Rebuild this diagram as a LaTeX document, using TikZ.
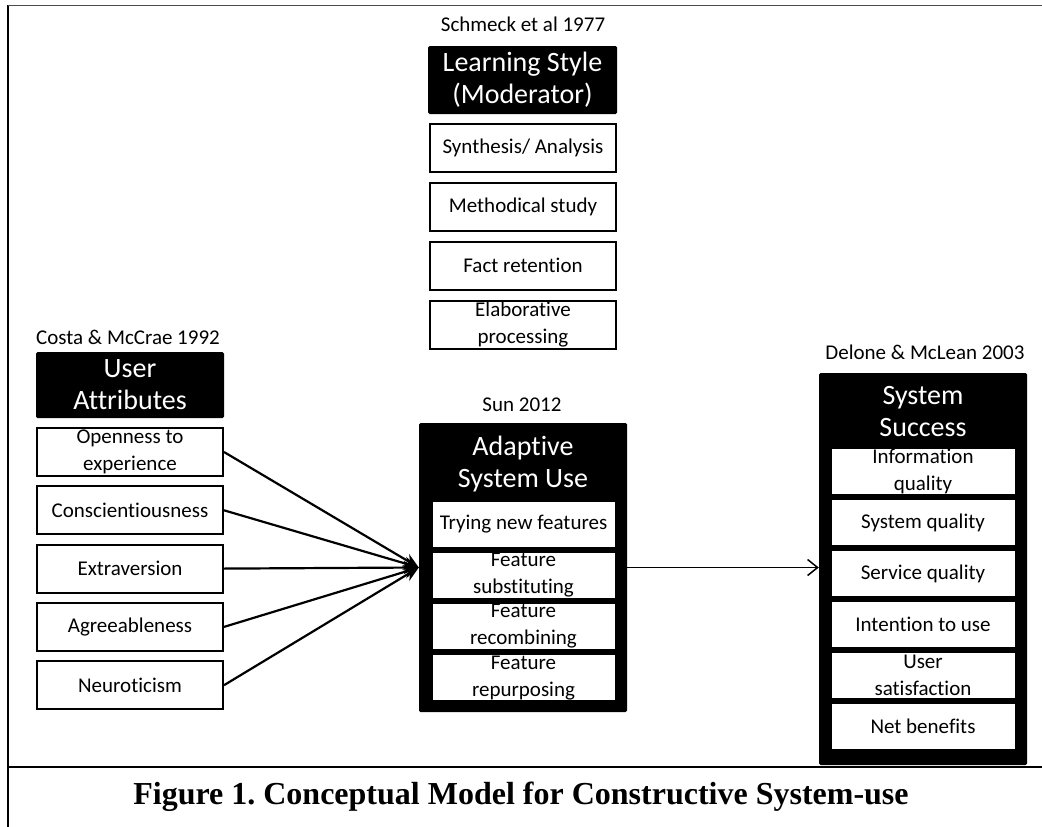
\documentclass[tikz,border=0pt]{standalone}
\usepackage{fontspec}
\setmainfont{Carlito}[Ligatures=NoCommon]
\newfontfamily\capfont{Liberation Serif}
\usetikzlibrary{arrows.meta}
\frenchspacing

\tikzset{
    item/.style={draw,line width=2pt,fill=white,minimum width=186pt,minimum height=48pt,inner sep=0pt,align=center,font=\fontsize{21}{27}\selectfont},
    subitem/.style={draw,line width=.6pt,fill=white,minimum width=183pt,minimum height=46pt,inner sep=0pt,align=center,font=\fontsize{21}{27}\selectfont},
    head/.style={fill=black,rounded corners=1.5pt,inner sep=0pt,text=white,align=center,font=\fontsize{28}{32}\selectfont},
    cite/.style={font=\fontsize{21}{25}\selectfont},
}

\begin{document}
\begin{tikzpicture}[x=1pt,y=-1pt]
    \useasboundingbox (0,0) rectangle (1042,827);
    % frame and caption rule
    \draw[line width=2.5pt] (8,5) -- (8,827);
    \draw[line width=1.2pt,black!70] (8,5.5) -- (1042,5.5);
    \draw[line width=2.5pt] (8,767) -- (1042,767);

    % moderator
    \node[cite] at (523,24)(lsRef){Schmeck et al 1977};
    \node[head,minimum width=189pt,minimum height=68pt] at (522.5,80)(ls){Learning Style\\(Moderator)};
    \foreach \t [count=\i from 0] in {Synthesis/ Analysis,Methodical study,Fact retention,Elaborative\\processing}{
        \node[item] at (523,147.5+59*\i)(ls\i){\t};
    }

    % user attributes
    \node[cite] at (128,337)(uaRef){Costa \& McCrae 1992};
    \node[head,minimum width=188pt,minimum height=66pt] at (130,385)(ua){User\\Attributes};
    \foreach \t [count=\i from 0] in {Openness to\\experience,Conscientiousness,Extraversion,Agreeableness,Neuroticism}{
        \node[item] at (130,452+58.3*\i)(ua\i){\t};
    }

    % adaptive system use
    \node[cite] at (522,405)(adaptRef){Sun 2012};
    \node[head,minimum width=208pt,minimum height=289pt] at (523,567.5)(adapt){};
    \node[head,fill=none] at (523,464)(adaptHead){Adaptive\\System Use};
    \foreach \t [count=\i from 0] in {Trying new features,Feature\\substituting,Feature\\recombining,Feature\\repurposing}{
        \node[subitem] at (523.5,524+51.2*\i)(as\i){\t};
    }

    % system success
    \node[cite] at (925,352)(succRef){Delone \& McLean 2003};
    \node[head,minimum width=208pt,minimum height=392pt] at (923,569)(succ){};
    \node[head,fill=none] at (923,412)(succHead){System\\Success};
    \foreach \t [count=\i from 0] in {Information\\quality,System quality,Service quality,Intention to use,User\\satisfaction,Net benefits}{
        \node[subitem,minimum width=184pt] at (923,471.5+51*\i)(ss\i){\t};
    }

    % connectors
    \foreach \i in {0,...,4}{
        \path[draw,line width=2.2pt,>={Stealth[length=15pt,width=13pt]},->] (ua\i.east) -- (adapt.west);
    }
    \path[draw,line width=1.5pt,-{Straight Barb[length=10pt,width=16pt]}] (adapt.east) -- (adapt.east -| succ.west);

    \node[font=\capfont\bfseries\fontsize{32}{36}\selectfont] at (521,797)(cap){Figure 1. Conceptual Model for Constructive System-use};
\end{tikzpicture}
\end{document}
